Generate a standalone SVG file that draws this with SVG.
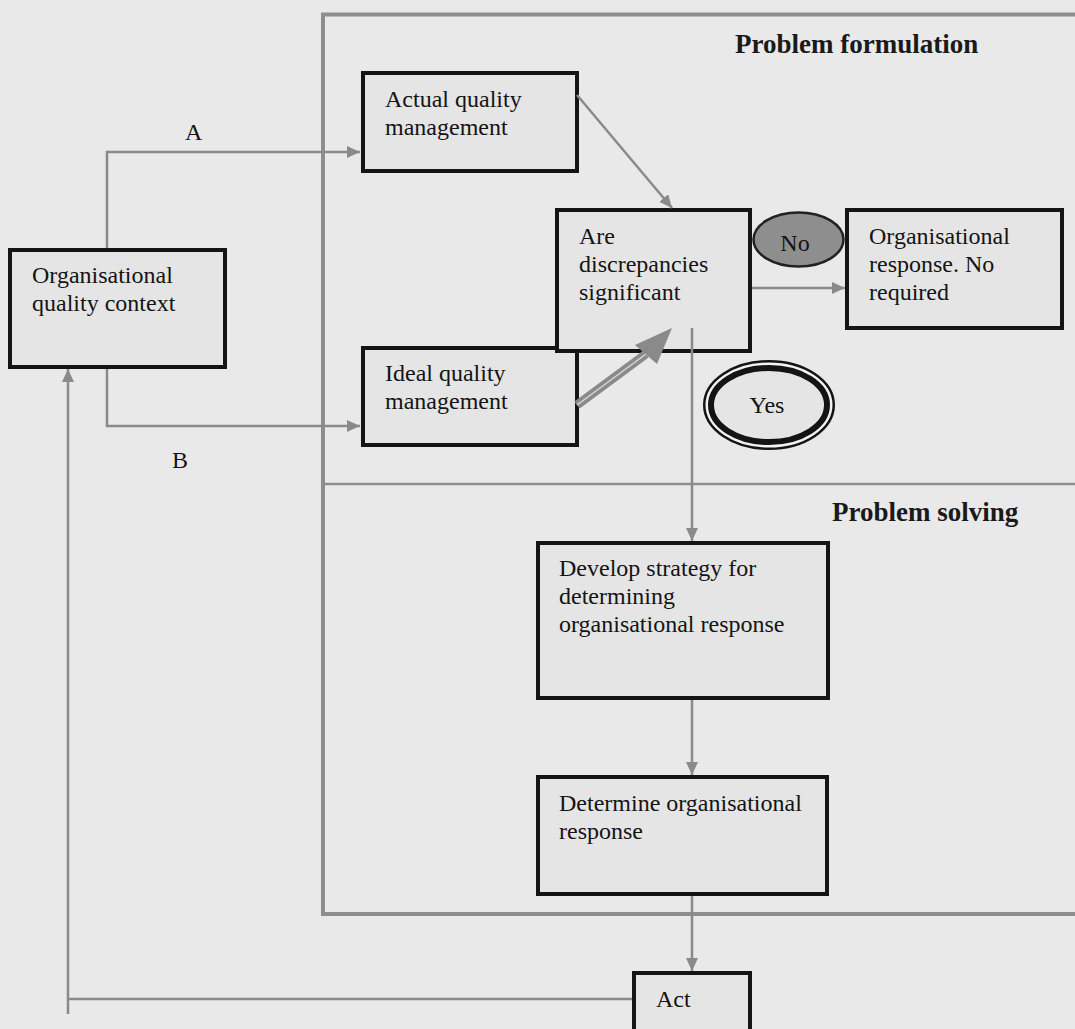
<svg xmlns="http://www.w3.org/2000/svg" width="1075" height="1029" viewBox="0 0 1075 1029">
  <style>
    .bg { fill: #e9e9e9; }
    .frame { fill: none; stroke: #8e8e8e; stroke-width: 4; }
    .divider { fill: none; stroke: #8e8e8e; stroke-width: 2.5; }
    .box { fill: #e5e5e5; stroke: #141414; stroke-width: 4; }
    .txt { font-family: "Liberation Serif", "Times New Roman", serif; font-size: 24px; fill: #141414; }
    .title { font-family: "Liberation Serif", "Times New Roman", serif; font-size: 27px; font-weight: bold; fill: #1a1a1a; }
    .conn { fill: none; stroke: #8a8a8a; stroke-width: 2.5; }
  </style>
  <defs>
    <marker id="ah" markerWidth="14" markerHeight="12" refX="13" refY="6" orient="auto" markerUnits="userSpaceOnUse">
      <path d="M0,0 L13,6 L0,12 z" fill="#8a8a8a"/>
    </marker>
  </defs>

  <rect class="bg" x="0" y="0" width="1075" height="1029"/>

  <!-- Boundary of the problem formulation / problem solving area -->
  <g id="frame">
    <path class="frame" d="M1075,14.5 H323 V914 H1075"/>
    <path class="divider" d="M323,484 H1075"/>
    <text class="title" x="735" y="53">Problem formulation</text>
    <text class="title" x="832" y="521">Problem solving</text>
  </g>

  <g id="node-context">
    <rect class="box" x="10" y="250" width="215" height="117"/>
    <text class="txt" x="32" y="283">Organisational</text>
    <text class="txt" x="32" y="311">quality context</text>
  </g>

  <g id="node-actual">
    <rect class="box" x="363" y="73" width="214" height="98"/>
    <text class="txt" x="385" y="107">Actual quality</text>
    <text class="txt" x="385" y="135">management</text>
  </g>

  <g id="node-ideal">
    <rect class="box" x="363" y="348" width="214" height="97"/>
    <text class="txt" x="385" y="381">Ideal quality</text>
    <text class="txt" x="385" y="409">management</text>
  </g>

  <g id="node-decision">
    <rect class="box" x="557" y="210" width="193" height="141"/>
    <text class="txt" x="579" y="244">Are</text>
    <text class="txt" x="579" y="272">discrepancies</text>
    <text class="txt" x="579" y="300">significant</text>
  </g>

  <g id="node-no">
    <ellipse cx="798.5" cy="239.5" rx="45" ry="27" fill="#8e8e8e" stroke="#222" stroke-width="2.5"/>
    <text class="txt" x="795" y="251" text-anchor="middle">No</text>
  </g>

  <g id="node-no-response">
    <rect class="box" x="847" y="210" width="215" height="118"/>
    <text class="txt" x="869" y="244">Organisational</text>
    <text class="txt" x="869" y="272">response. No</text>
    <text class="txt" x="869" y="300">required</text>
  </g>

  <!-- double-ring terminal: thin outer ring, light gap, heavy inner ring -->
  <g id="node-yes">
    <ellipse cx="769" cy="405" rx="64.75" ry="43.75" fill="#f2f2f2" stroke="#141414" stroke-width="2.5"/>
    <ellipse cx="769" cy="405" rx="58" ry="37" fill="#e5e5e5" stroke="#141414" stroke-width="6"/>
    <text class="txt" x="767" y="413" text-anchor="middle">Yes</text>
  </g>

  <g id="node-strategy">
    <rect class="box" x="538" y="543" width="290" height="155"/>
    <text class="txt" x="559" y="576">Develop strategy for</text>
    <text class="txt" x="559" y="604">determining</text>
    <text class="txt" x="559" y="632">organisational response</text>
  </g>

  <g id="node-determine">
    <rect class="box" x="538" y="777" width="289" height="117"/>
    <text class="txt" x="559" y="811">Determine organisational</text>
    <text class="txt" x="559" y="839">response</text>
  </g>

  <g id="node-act">
    <rect class="box" x="634" y="973" width="116" height="70"/>
    <text class="txt" x="656" y="1007">Act</text>
  </g>

  <g id="connectors">
    <!-- A: context to actual quality management -->
    <path class="conn" d="M107,248 V152 H360" marker-end="url(#ah)"/>
    <text class="txt" x="185" y="140">A</text>
    <!-- B: context to ideal quality management -->
    <path class="conn" d="M107,369 V426 H360" marker-end="url(#ah)"/>
    <text class="txt" x="172" y="468">B</text>
    <!-- actual to decision -->
    <path class="conn" d="M577,95 L672,208" marker-end="url(#ah)"/>
    <!-- ideal to decision: broad block arrow -->
    <g id="block-arrow">
      <path d="M577,405 L646,354" fill="none" stroke="#8a8a8a" stroke-width="9"/>
      <path d="M577,405 L646,354" fill="none" stroke="#d8d8d8" stroke-width="1.5"/>
      <path d="M672,328 L635,345 L657,364 z" fill="#8a8a8a"/>
    </g>
    <!-- decision: no -->
    <path class="conn" d="M752,288 H845" marker-end="url(#ah)"/>
    <!-- decision: yes, down into problem solving -->
    <path class="conn" d="M692,328 V541" marker-end="url(#ah)"/>
    <path class="conn" d="M692,700 V775" marker-end="url(#ah)"/>
    <path class="conn" d="M692,896 V971" marker-end="url(#ah)"/>
    <!-- feedback from act to context -->
    <path class="conn" d="M632,999 H68"/>
    <path class="conn" d="M68,1014 V369" marker-end="url(#ah)"/>
  </g>
</svg>
